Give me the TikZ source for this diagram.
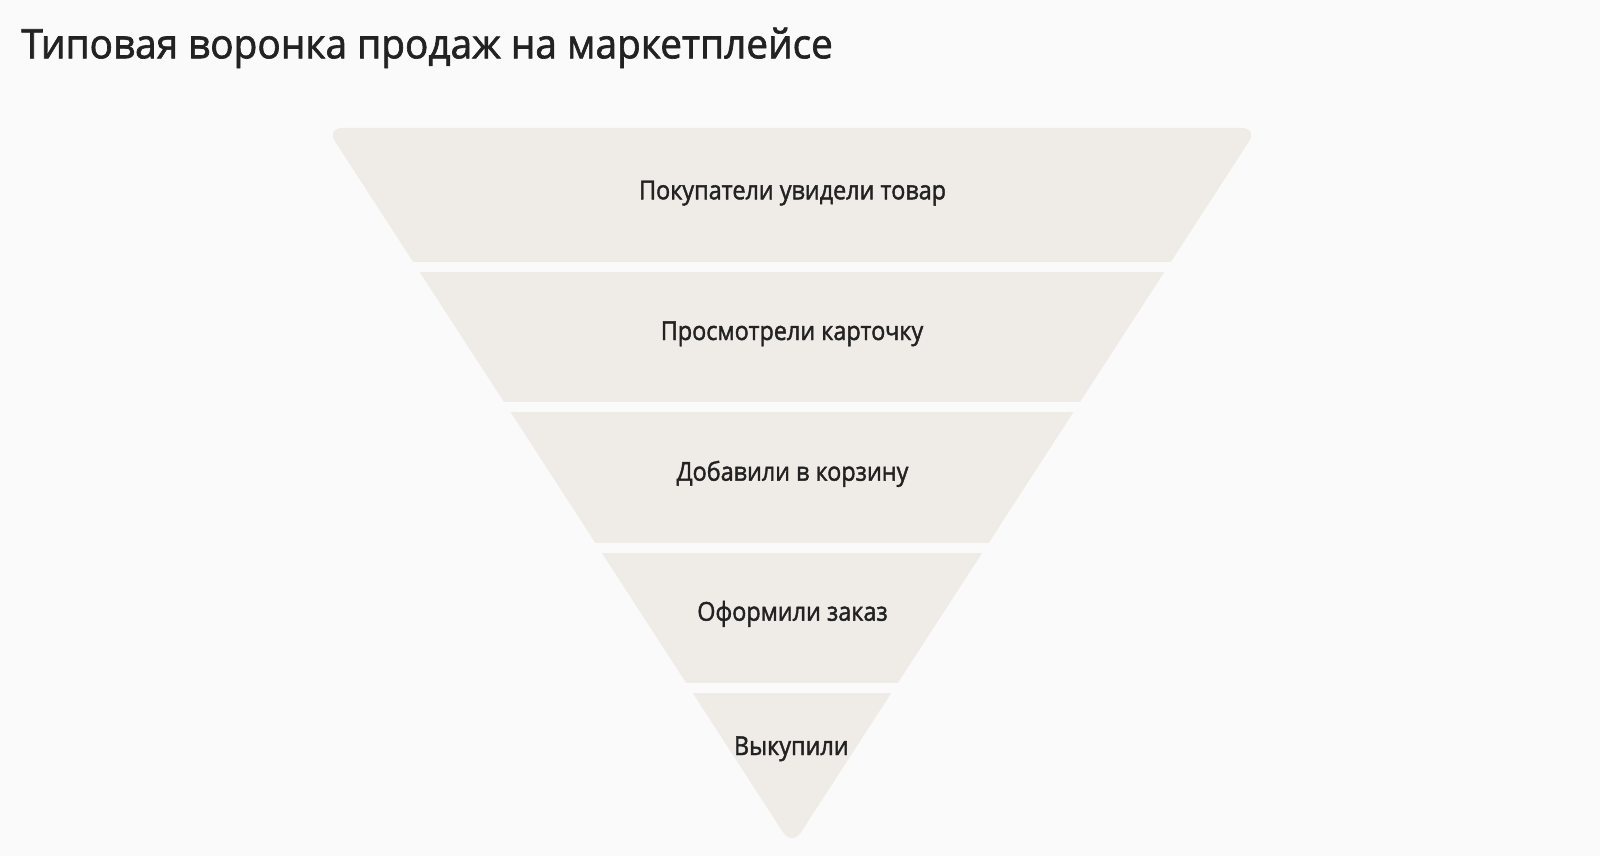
\documentclass[tikz,border=0pt]{standalone}
\usepackage{fontspec}
\setmainfont{Open Sans}
\newfontfamily\titlefont{Open Sans}[FakeStretch=0.955, FakeBold=1.6]
\newfontfamily\stagefont{Open Sans}[FakeStretch=0.9, FakeBold=1.6]
\definecolor{funnel}{RGB}{239,236,231}
\definecolor{paper}{RGB}{250,250,250}
\definecolor{ink}{RGB}{34,34,34}
\tikzset{stage/.style={anchor=base, inner sep=0, text=ink, font=\stagefont\fontsize{13}{15}\selectfont}}

\begin{document}
\begin{tikzpicture}[x=0.5pt,y=-0.5pt]

% background
\fill [paper] (0,0) rectangle (1600,856);
\useasboundingbox (0,0) rectangle (1600,856);

% title
\node (title) [anchor=base west, inner sep=0, text=ink, font=\titlefont\fontsize{20.3}{24}\selectfont] at (21,58.3) {Типовая воронка продаж на маркетплейсе};

% funnel
\fill [funnel, rounded corners=8pt] (326.3,128) -- (1257.7,128) -- (792,846.1) -- cycle;

% gaps between stages
\foreach \y in {261.7,402.3,542.7,682.7}
  \fill [paper] (300,\y) rectangle (1300,{\y+10});

% stages
\node (seen) [stage] at (792.5,199.3) {Покупатели увидели товар};
\node (card) [stage] at (792,340) {Просмотрели карточку};
\node (cart) [stage] at (792.5,480.7) {Добавили в корзину};
\node (order) [stage] at (792.5,620.7) {Оформили заказ};
\node (bought) [stage] at (791.3,755) {Выкупили};

\end{tikzpicture}
\end{document}
